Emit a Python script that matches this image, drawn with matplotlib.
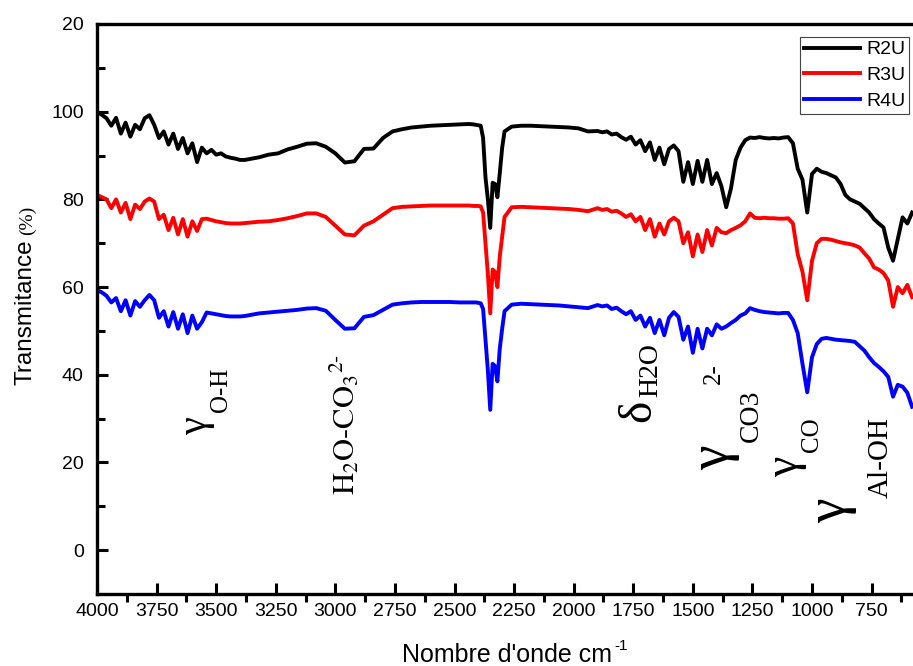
import numpy as np
import matplotlib.pyplot as plt
from matplotlib.ticker import MultipleLocator, FixedLocator, FixedFormatter

plt.rcParams['font.family'] = ['Liberation Sans', 'DejaVu Sans']
plt.rcParams['mathtext.fontset'] = 'stix'

# wavenumber grid (cm-1), finer in the noisy / sharp regions
wavenumber = np.concatenate([
    np.arange(4000, 3300, -20),
    np.arange(3280, 2400, -40),
    np.arange(2420, 2280, -10),
    np.arange(2260, 1920, -40),
    np.arange(1900, 1240, -20),
    np.arange(1240, 570, -20),
])

r2u = [
    100.0, 99.3, 98.5, 96.8, 98.6, 95.0, 97.5, 94.3, 97.0, 96.0, 98.5, 99.2, 97.0, 94.0, 95.5, 92.5, 95.0, 91.5,
    94.0, 90.5, 92.8, 88.5, 91.8, 90.5, 91.3, 90.2, 90.5, 89.8, 89.5, 89.3, 89.0, 89.0, 89.2, 89.4, 89.6,
    90.2, 90.5, 91.4, 92.0, 92.7, 92.8, 92.0, 90.5, 88.4, 88.7, 91.5, 91.6, 94.0, 95.5, 96.0, 96.4, 96.6, 96.8,
    96.9, 97.0, 97.1, 97.2,
    97.1, 97.0, 96.9, 96.8, 94.0, 85.0, 80.0, 73.5, 83.8, 83.5, 80.5, 86.0, 91.8, 95.5,
    96.6, 96.8, 96.8, 96.7, 96.6, 96.5, 96.4, 96.2, 95.5,
    95.6, 95.3, 95.5, 94.8, 95.0, 94.2, 93.6, 94.3, 92.5, 93.5, 91.0, 93.0, 89.0, 91.8, 88.0, 91.5, 92.3,
    91.0, 84.0, 88.5, 83.5, 88.8, 84.0, 89.0, 83.5, 86.0, 83.0, 78.2, 82.5, 89.0, 91.8, 93.5, 94.1,
    94.0, 94.2, 94.0, 93.9, 94.0, 93.9, 94.1, 94.2, 92.8, 87.0, 84.5, 77.0, 85.8, 87.0, 86.3, 86.0, 85.5,
    85.0, 83.5, 81.0, 80.0, 79.5, 79.0, 78.0, 77.0, 75.5, 74.5, 73.6, 69.0, 66.0, 71.0, 75.9, 74.5, 77.0,
]

r3u = [
    81.0, 80.5, 80.0, 78.0, 80.0, 77.0, 79.2, 75.5, 78.8, 77.8, 79.5, 80.2, 79.5, 75.5, 76.5, 73.0, 75.8, 72.0,
    75.5, 71.5, 75.0, 72.8, 75.5, 75.6, 75.3, 75.0, 74.8, 74.6, 74.5, 74.5, 74.5, 74.6, 74.7, 74.8, 74.9,
    75.0, 75.3, 75.7, 76.2, 76.8, 76.8, 76.0, 74.0, 72.0, 71.8, 74.0, 75.0, 76.5, 78.0, 78.3, 78.4, 78.5, 78.6,
    78.6, 78.6, 78.6, 78.6,
    78.5, 78.5, 78.5, 78.4, 77.0, 70.0, 63.0, 54.0, 64.0, 63.5, 60.0, 67.0, 71.5, 76.0,
    78.2, 78.3, 78.2, 78.1, 78.0, 77.9, 77.8, 77.6, 77.3,
    78.0, 77.6, 77.8, 77.2, 77.4, 76.8, 76.0, 76.6, 75.0, 76.0, 73.0, 75.5, 71.5, 74.5, 72.0, 75.0, 75.8,
    75.0, 70.0, 72.5, 67.0, 72.0, 68.0, 73.0, 69.5, 73.5, 72.5, 72.3, 73.0, 73.5, 74.1, 75.0, 76.8,
    75.8, 75.7, 75.8, 75.7, 75.7, 75.6, 75.6, 75.7, 74.5, 67.5, 63.5, 57.0, 66.0, 70.0, 71.0, 71.0, 70.8,
    70.5, 70.2, 70.0, 69.8, 69.5, 69.0, 67.7, 66.5, 64.5, 64.0, 63.2, 61.5, 55.5, 60.0, 58.6, 60.5, 57.7,
]

r4u = [
    59.3, 58.8, 58.0, 56.5, 57.5, 54.5, 57.0, 53.5, 56.8, 55.5, 57.0, 58.2, 57.0, 53.0, 54.5, 51.0, 54.3, 50.5,
    53.8, 49.5, 53.5, 50.5, 52.0, 54.2, 54.0, 53.8, 53.6, 53.4, 53.3, 53.3, 53.3, 53.4, 53.6, 53.8, 54.0,
    54.2, 54.4, 54.6, 54.8, 55.1, 55.2, 54.6, 52.5, 50.5, 50.6, 53.2, 53.6, 54.8, 56.0, 56.3, 56.5, 56.6, 56.6,
    56.6, 56.6, 56.5, 56.5,
    56.5, 56.5, 56.4, 56.3, 55.0, 48.0, 41.0, 32.0, 42.5, 42.0, 38.5, 46.0, 50.5, 54.5,
    56.0, 56.2, 56.1, 56.0, 55.9, 55.8, 55.6, 55.4, 55.2,
    55.9, 55.6, 55.8, 55.0, 55.3, 54.5, 53.8, 54.5, 52.5, 53.5, 51.0, 53.0, 49.5, 52.5, 49.0, 53.0, 54.3,
    53.2, 48.0, 51.0, 45.0, 50.5, 46.0, 50.5, 49.0, 51.5, 50.5, 51.0, 51.8, 52.5, 53.5, 54.0, 55.2,
    54.8, 54.5, 54.3, 54.2, 54.1, 54.0, 54.1, 54.1, 52.5, 49.5, 42.5, 36.0, 44.0, 47.0, 48.2, 48.4, 48.2,
    48.0, 47.9, 47.8, 47.7, 47.5, 46.5, 45.5, 44.0, 42.7, 41.8, 40.8, 39.5, 35.0, 37.7, 37.3, 35.9, 32.7,
]

series_names = ['R2U', 'R3U', 'R4U']
series_colors = ['#000000', '#ff0000', '#0000ff']

xtick_vals = [4000, 3750, 3500, 3250, 3000, 2750, 2500, 2250, 2000, 1750, 1500, 1250, 1000, 750]
ytick_vals = [0, 20, 40, 60, 80, 100, 120]
ytick_labels = ['0', '20', '40', '60', '80', '100', '20']

fig = plt.figure(figsize=(9.13, 6.66), dpi=100)
ax = fig.add_axes([97 / 913, 72 / 666, 858 / 913, 570 / 666])

for vals, name, col in zip([r2u, r3u, r4u], series_names, series_colors):
    ax.plot(wavenumber, vals, color=col, lw=2.8, label=name, solid_joinstyle='round')

ax.set_xlim(4000, 400)
ax.set_ylim(-10, 120)
ax.xaxis.set_major_locator(FixedLocator(xtick_vals))
ax.xaxis.set_minor_locator(MultipleLocator(125))
ax.yaxis.set_major_locator(FixedLocator(ytick_vals))
ax.yaxis.set_major_formatter(FixedFormatter(ytick_labels))
ax.yaxis.set_minor_locator(MultipleLocator(10))

for s in ax.spines.values():
    s.set_linewidth(2.4)
ax.tick_params(axis='x', which='major', direction='in', length=8, width=2.2, labelsize=14, pad=6.5)
ax.tick_params(axis='x', which='minor', direction='out', length=6, width=2.2)
ax.tick_params(axis='y', which='major', direction='in', length=8, width=2.2, labelsize=14, pad=9.5)
ax.tick_params(axis='y', which='minor', direction='in', length=6, width=2.2)

# axis titles
fig.text(612 / 913, 1 - 662 / 666, "Nombre d'onde cm", fontsize=18, ha='right', va='baseline')
fig.text(614 / 913, 1 - 650 / 666, '-1', fontsize=11, ha='left', va='baseline')
fig.text(32 / 913, 1 - 312 / 666, 'Transmitance', fontsize=17.5, rotation=90,
         rotation_mode='anchor', ha='center', va='baseline')
fig.text(32 / 913, 1 - 220 / 666, '(%)', fontsize=14, rotation=90, family='Liberation Serif',
         rotation_mode='anchor', ha='center', va='baseline')

# band assignments
serif = 'Liberation Serif'
bands = [
    (3543, 28.6, '\u03b3', 29),
    (3455, 36.6, 'O-H', 18),
    (1680, 31.8, '\u03b4', 34),
    (1651, 41.1, 'H2O', 20),
    (1353, 21.1, '\u03b3', 40),
    (1227, 30.7, 'CO3', 20),
    (1386, 40.2, '2-', 18),
    (1063, 19.1, '\u03b3', 33),
    (975, 26.4, 'CO', 18),
    (862, 8.9, '\u03b3', 40),
    (682, 21.1, 'Al-OH', 21),
]
for x, y, txt, size in bands:
    ax.text(x, y, txt, fontsize=size, family=serif, rotation=90, rotation_mode='anchor',
            ha='center', va='baseline')
ax.text(2918, 28.6, r'$\mathrm{H_2O\text{-}CO_3{}^{2\text{-}}}$', fontsize=22, rotation=90,
        rotation_mode='anchor', ha='center', va='baseline')

leg = ax.legend(loc='upper left', bbox_to_anchor=(800 / 913, 1 - 37 / 666), bbox_transform=fig.transFigure,
                borderaxespad=0, fontsize=14, handlelength=2.9, handletextpad=0.3, borderpad=0.2,
                labelspacing=0.42, fancybox=False, framealpha=1)
leg.get_frame().set_edgecolor('#444444')
leg.get_frame().set_linewidth(0.8)

fig.savefig('out.png', dpi=100)
